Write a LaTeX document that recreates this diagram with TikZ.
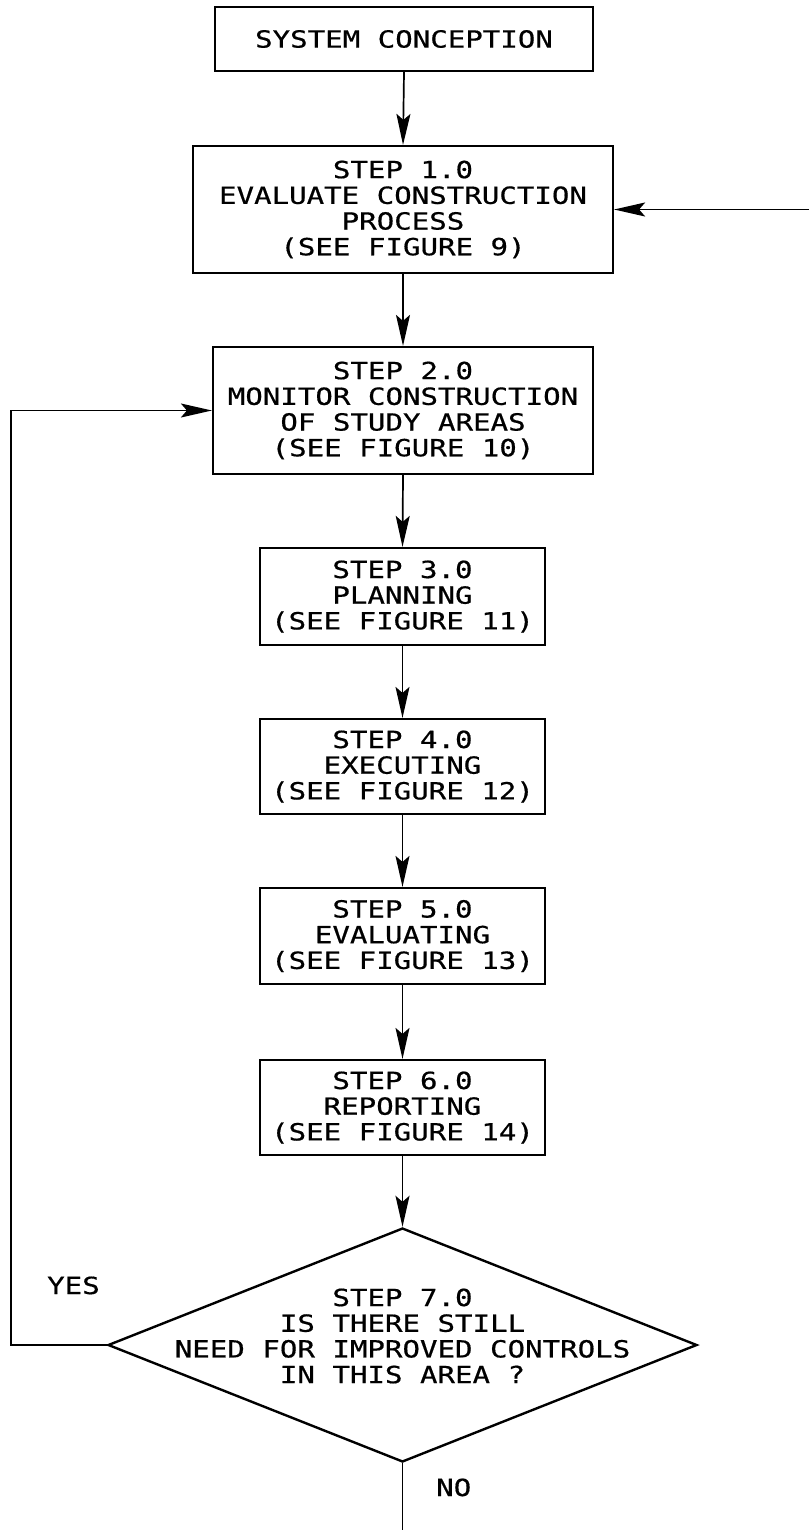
\documentclass[tikz,border=0pt]{standalone}
\usepackage{fontspec}
\newfontfamily\lettering[FakeStretch=1.233,FakeBold=0.6]{DejaVu Sans Mono}
\usetikzlibrary{shapes.geometric,arrows.meta}
\tikzset{
  stepbox/.style={draw, line width=2.2pt, inner sep=0pt, align=center,
    font=\lettering\fontsize{23.6}{25.7}\selectfont},
  decision/.style={draw, diamond, line width=2.4pt, inner sep=0pt},
  lbl/.style={inner sep=0pt, align=center, font=\lettering\fontsize{23.6}{25.7}\selectfont},
  conn/.style={line width=1.7pt},
  arr/.style={conn, -{Stealth[length=31pt, width=14pt, inset=6pt]}}
}
\begin{document}
\begin{tikzpicture}[x=1pt,y=-1pt]
\useasboundingbox (0,0) rectangle (809,1530);
\node[stepbox, minimum width=378pt, minimum height=64pt] (b0) at (404,39) {SYSTEM CONCEPTION};
\node[stepbox, minimum width=420pt, minimum height=127pt] (b1) at (403,209.5)
  {STEP 1.0\\EVALUATE CONSTRUCTION\\PROCESS\\(SEE FIGURE 9)};
\node[stepbox, minimum width=380pt, minimum height=127pt] (b2) at (403,410.5)
  {STEP 2.0\\MONITOR CONSTRUCTION\\OF STUDY AREAS\\(SEE FIGURE 10)};
\node[stepbox, minimum width=285pt, minimum height=97pt] (b3) at (402.5,596.5)
  {STEP 3.0\\PLANNING\\(SEE FIGURE 11)};
\node[stepbox, minimum width=285pt, minimum height=95pt] (b4) at (402.5,766.5)
  {STEP 4.0\\EXECUTING\\(SEE FIGURE 12)};
\node[stepbox, minimum width=285pt, minimum height=96pt] (b5) at (402.5,936)
  {STEP 5.0\\EVALUATING\\(SEE FIGURE 13)};
\node[stepbox, minimum width=285pt, minimum height=95pt] (b6) at (402.5,1107.5)
  {STEP 6.0\\REPORTING\\(SEE FIGURE 14)};
\node[decision, minimum width=589pt, minimum height=234pt] (d) at (402.5,1345) {};
\node[lbl] (dt) at (402.5,1336) {STEP 7.0\\IS THERE STILL\\NEED FOR IMPROVED CONTROLS\\IN THIS AREA ?};
\node[lbl, anchor=base west] (yes) at (47,1294) {YES};
\node[lbl, anchor=base west] (no) at (436,1496) {NO};
\coordinate (rin) at (809,209.5);
\coordinate (end) at (402.5,1530);
\draw[arr] (b0.south) -- (b1.north);
\draw[arr] (b1.south) -- (b2.north);
\draw[arr] (b2.south) -- (b3.north);
\draw[arr] (b3.south) -- (b4.north);
\draw[arr] (b4.south) -- (b5.north);
\draw[arr] (b5.south) -- (b6.north);
\draw[arr] (b6.south) -- (d.north);
\draw[arr] (rin) -- (b1.east);
\draw[arr] (d.west) -- ++(-96,0) |- (b2.west);
\draw[conn] (d.south) -- (end);
\end{tikzpicture}
\end{document}
